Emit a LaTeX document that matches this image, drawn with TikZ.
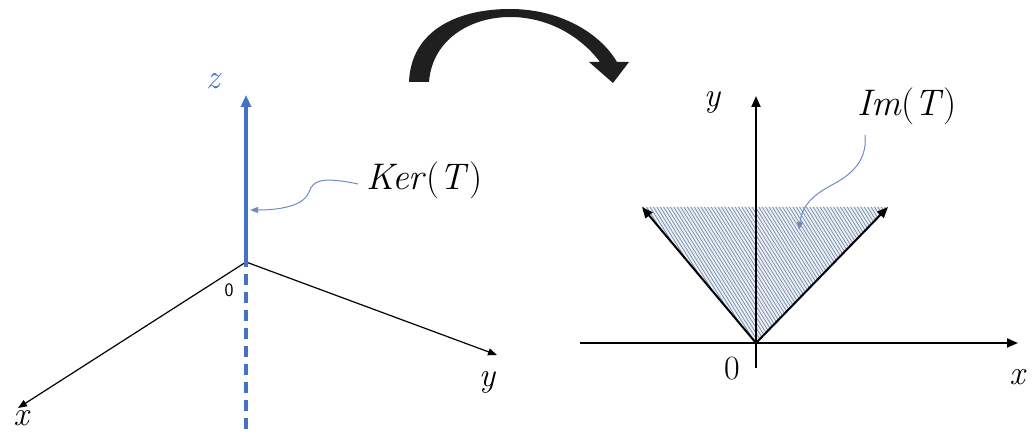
\documentclass[tikz,border=0pt]{standalone}
\usepackage{fontspec}
\usetikzlibrary{arrows.meta}
\definecolor{axblue}{RGB}{68,114,196}
\definecolor{ptrblue}{RGB}{110,140,190}
\definecolor{hatchc}{RGB}{120,140,165}
\definecolor{hatchbg}{RGB}{236,241,248}
\begin{document}
\begin{tikzpicture}[x=1pt,y=-1pt,
  thinax/.style={line width=1.2pt,-{Triangle[length=9pt,width=7pt]}},
  thickax/.style={line width=2pt,-{Triangle[length=11pt,width=9pt]}},
  ptr/.style={ptrblue,line width=1pt,-{Triangle[length=8pt,width=6pt]}},
  lbl/.style={inner sep=0pt,font=\fontsize{34}{40}\selectfont},
  biglbl/.style={inner sep=0pt,font=\fontsize{37}{42}\selectfont}]
\useasboundingbox (0,0) rectangle (1032,438);
% ---------- left: 3D axes ----------
\coordinate (O1) at (246,262);
\coordinate (X1) at (18,408);
\coordinate (Y1) at (497,355);
\coordinate (Z1) at (246,95);
\coordinate (Zb) at (246,436);
\draw[thinax] (O1) -- (X1);
\draw[thinax] (O1) -- (Y1);
\draw[axblue,line width=3.5pt,-{Triangle[length=12pt,width=10pt]}] (O1) -- (Z1);
\draw[axblue,line width=3.5pt,dash pattern=on 11pt off 7pt] ([yshift=6pt]O1) -- (Zb);
\node[lbl,axblue] (zl) at (213,81) {\itshape z};
\node[lbl] (xl) at (21,418) {\itshape x};
\node[lbl] (yl) at (487,382) {\itshape y};
\node[inner sep=0pt,font=\sffamily\fontsize{19}{22}\selectfont] (o1) at (229,290) {0};
\node[biglbl,anchor=west] (ker) at (366,180) {\textit{Ker}(\textit{T})};
\coordinate (kertip) at (250,210);
\draw[ptr] (ker.west) ++(-8pt,-4pt) coordinate (ks) .. controls (320,176) and (313,181) .. (309,192) .. controls (305,204) and (285,210) .. (kertip);
% ---------- big curved arrow ----------
\fill[black!88] (409,82) .. controls (411,30) and (458,9) .. (510,9)
  .. controls (560,9) and (600,33) .. (617,62)
  -- (629,62) -- (613,83) -- (589,62) -- (600,62)
  .. controls (582,38) and (550,17) .. (510,17)
  .. controls (470,17) and (432,40) .. (429,82) -- cycle;
% ---------- right: 2D axes ----------
\coordinate (O2) at (756,343);
\coordinate (TL) at (642,207);
\coordinate (TR) at (888,207);
\begin{scope}
  \clip (O2) -- (TL) -- (TR) -- cycle;
  \fill[hatchbg] (O2) -- (TL) -- (TR) -- cycle;
  \foreach \i in {0,...,110} {
    \draw[hatchc,line width=0.75pt] ({500+3.4*\i},190) -- ({600+3.4*\i},350);
  }
\end{scope}
\draw[line width=2pt] (580,343) -- (O2);
\draw[thickax] (O2) -- (1018,343);
\draw[thickax] (756,368) -- (756,96);
\draw[thickax] (O2) -- (TL);
\draw[thickax] (O2) -- (TR);
\node[lbl] (x2) at (1017,377) {\itshape x};
\node[lbl] (y2) at (712,102) {\itshape y};
\node[inner sep=0pt,font=\fontsize{34}{38}\selectfont] (o2) at (732,369) {0};
\node[biglbl] (im) at (907,106) {\textit{Im}(\textit{T})};
\coordinate (imtip) at (799,230);
\draw[ptr] (865,135) .. controls (868,165) and (845,178) .. (830,186) .. controls (812,196) and (802,206) .. (imtip);
\end{tikzpicture}
\end{document}
